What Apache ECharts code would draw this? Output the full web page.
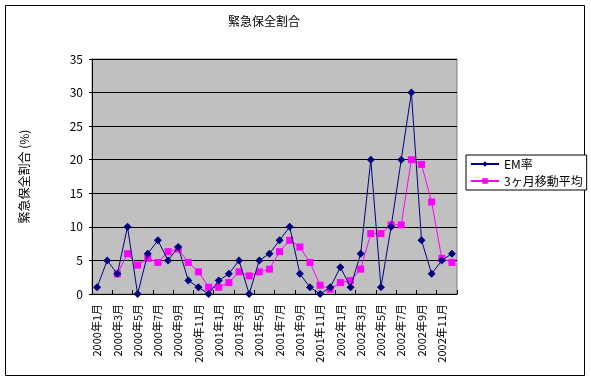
<!DOCTYPE html>
<html><head><meta charset="utf-8">
<script src="https://cdn.jsdelivr.net/npm/echarts@6/dist/echarts.min.js"></script>
<style>html,body{margin:0;padding:0;background:#fff}#c{width:591px;height:381px}</style>
</head><body><div id="c"></div>
<script>
const categories = [
 '2000年1月','2000年2月','2000年3月','2000年4月','2000年5月','2000年6月','2000年7月','2000年8月','2000年9月','2000年10月','2000年11月','2000年12月',
 '2001年1月','2001年2月','2001年3月','2001年4月','2001年5月','2001年6月','2001年7月','2001年8月','2001年9月','2001年10月','2001年11月','2001年12月',
 '2002年1月','2002年2月','2002年3月','2002年4月','2002年5月','2002年6月','2002年7月','2002年8月','2002年9月','2002年10月','2002年11月','2002年12月'];
const emRate = [1,5,3,10,0,6,8,5,7,2,1,0,2,3,5,0,5,6,8,10,3,1,0,1,4,1,6,20,1,10,20,30,8,3,5,6];
const movingAvg = [null,null,3,6,4.3,5.3,4.7,6.3,6.7,4.7,3.3,1,1,1.7,3.3,2.7,3.3,3.7,6.3,8,7,4.7,1.3,0.7,1.7,2,3.7,9,9,10.3,10.3,20,19.3,13.7,5.3,4.7];
const seriesNames = ['EM率','3ヶ月移動平均'];
const titleText = '緊急保全割合';
const yName = '緊急保全割合 (%)';

const font = '"Noto Sans CJK JP", sans-serif';
const chart = echarts.init(document.getElementById('c'), null, {renderer:'canvas'});
chart.setOption({
  animation:false,
  backgroundColor:'#fff',
  textStyle:{fontFamily:font},
  graphic:[{type:'rect',shape:{x:5.5,y:5.5,width:579,height:370},style:{fill:null,stroke:'#000',lineWidth:1},silent:true,z:-1}],
  title:{text:titleText,left:259,top:10,textAlign:'center',textStyle:{fontSize:12,fontWeight:'normal',color:'#000',fontFamily:font}},
  grid:{left:92,top:59,right:134,bottom:87,show:true,backgroundColor:'#C0C0C0',borderColor:'#808080',borderWidth:1},
  legend:{orient:'vertical',left:466,top:155,width:116,height:34,padding:[3,4,3,4],itemGap:5,itemWidth:28,itemHeight:7,
    borderColor:'#000',borderWidth:1,backgroundColor:'#fff',
    textStyle:{fontSize:12,color:'#000',fontFamily:font},data:seriesNames},
  xAxis:{type:'category',data:categories,boundaryGap:true,
    axisLine:{lineStyle:{color:'#000',width:1}},
    axisTick:{show:true,inside:true,length:4,interval:1,alignWithLabel:false,lineStyle:{color:'#000'}},
    axisLabel:{interval:1,rotate:90,margin:10,fontSize:11,color:'#000',fontFamily:font}},
  yAxis:{type:'value',min:0,max:35,interval:5,name:yName,nameLocation:'middle',nameGap:62,
    nameTextStyle:{fontSize:12,color:'#000',fontFamily:font},
    axisLine:{show:true,lineStyle:{color:'#000'}},
    axisTick:{show:true,length:3,lineStyle:{color:'#000'}},
    axisLabel:{margin:9,fontSize:12,color:'#000',fontFamily:font},
    splitLine:{show:true,lineStyle:{color:'#000',width:1}}},
  series:[
    {name:seriesNames[0],type:'line',data:emRate,symbol:'diamond',symbolSize:8,showSymbol:true,showAllSymbol:true,
     lineStyle:{color:'#000080',width:1},itemStyle:{color:'#000080'},z:3},
    {name:seriesNames[1],type:'line',data:movingAvg,symbol:'rect',symbolSize:7,showSymbol:true,showAllSymbol:true,
     lineStyle:{color:'#FF00FF',width:1},itemStyle:{color:'#FF00FF'},z:2}
  ]
});
</script></body></html>
